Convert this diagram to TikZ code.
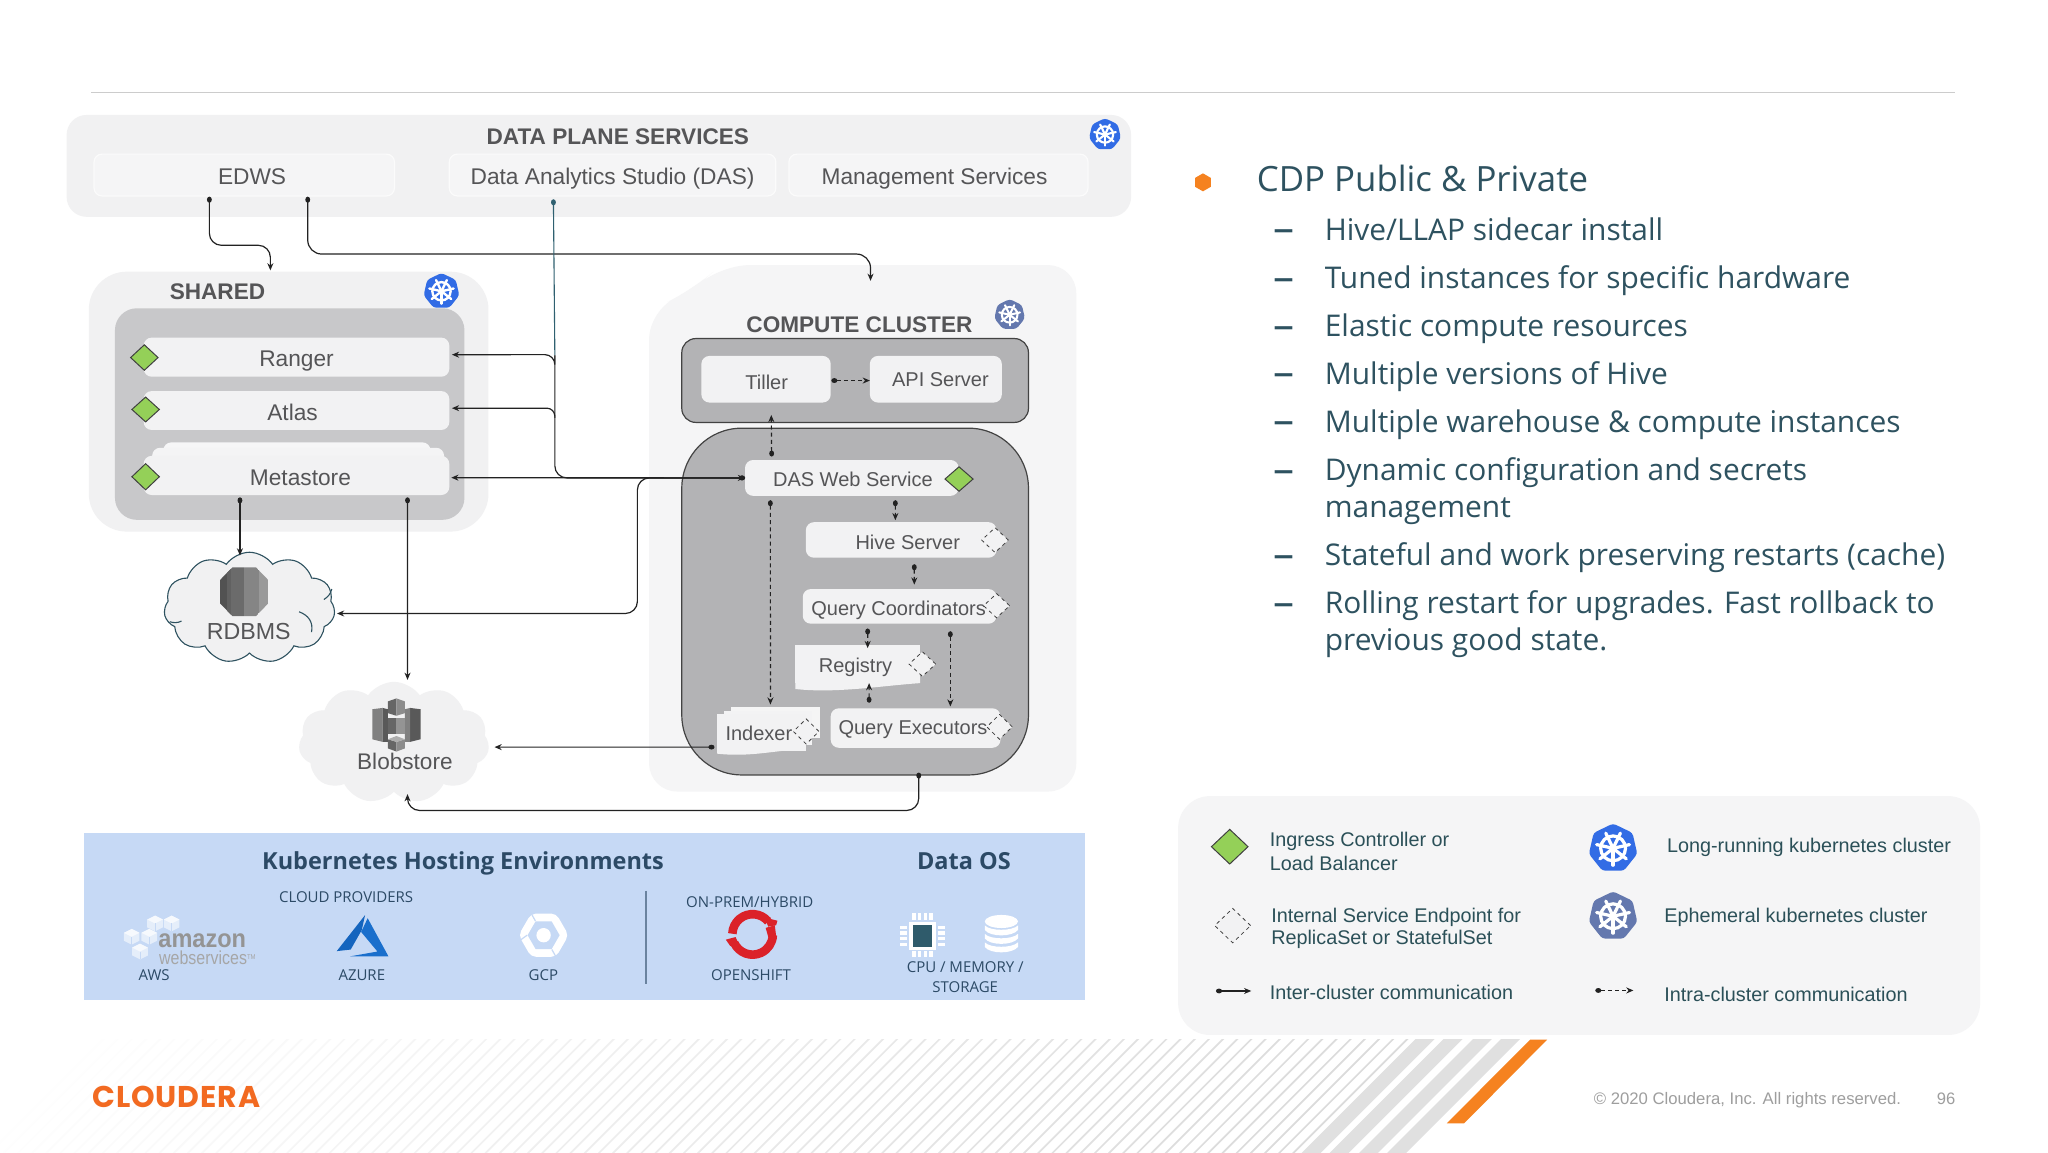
\documentclass[tikz,border=0pt]{standalone}
\usepackage{fontspec}
\usepackage{graphicx}
\setmainfont{Liberation Sans}
\newfontfamily\seg{Open Sans}
\newfontfamily\popp[LetterSpace=3]{Poppins}
\usetikzlibrary{shapes.geometric,shapes.symbols,arrows.meta,calc}
\definecolor{panel}{HTML}{F1F1F2}
\definecolor{panelL}{HTML}{F5F5F6}
\definecolor{grayA}{HTML}{C8C8CA}
\definecolor{grayB}{HTML}{B3B3B5}
\definecolor{boxw}{HTML}{F2F2F3}
\definecolor{txt}{HTML}{555557}
\definecolor{green1}{HTML}{94D058}
\definecolor{hostbg}{HTML}{C6D9F5}
\definecolor{hosttxt}{HTML}{2C4A66}
\definecolor{slate}{HTML}{2E5260}
\definecolor{legtxt}{HTML}{2B5058}
\definecolor{kblue}{HTML}{326CE5}
\definecolor{kgrey}{HTML}{6478AE}
\definecolor{orange1}{HTML}{F58220}
\definecolor{cloudera}{HTML}{F26A21}
\definecolor{lineK}{HTML}{222222}
\definecolor{teal1}{HTML}{2F6070}
\definecolor{azdark}{HTML}{1565BE}
\definecolor{azlight}{HTML}{1A6FCC}
\definecolor{osred}{HTML}{DB2229}
\definecolor{cpucore}{HTML}{2F5B6B}
\newcommand\fs[1]{\fontsize{#1}{#1}\selectfont}
\newcommand\boxn[6]{\node[#1,minimum width={(#5-#3)*0.653061pt},minimum height={(#6-#4)*0.653061pt}] (#2) at ({(#3+#5)/2},{(#4+#6)/2}) {};}
\newcommand\kube[5]{%
  \node[kubeshape,minimum size={2*#4*0.653061pt},fill=#5] (#1) at (#2,#3) {};
  \begin{scope}[shift={(#2,#3)},line cap=round,white,line width={#4*0.085pt}]
    \draw (0,0) circle [radius={#4*0.5}];
    \foreach \a in {90,141.43,192.86,244.29,295.71,347.14,38.57} {\draw (0,0) -- (\a:{#4*0.68});}
    \fill (0,0) circle [radius={#4*0.15}];
  \end{scope}}
\newcommand\awscube[2]{%
  \fill[white!55!hostbg] (#1,#2-6) -- (#1+6,#2-3) -- (#1+6,#2+3) -- (#1,#2+6) -- (#1-6,#2+3) -- (#1-6,#2-3) -- cycle;
  \fill[white!85!hostbg] (#1,#2-6) -- (#1+6,#2-3) -- (#1,#2) -- (#1-6,#2-3) -- cycle;
  \draw[hostbg,line width=.3pt] (#1,#2) -- (#1,#2+6);}
\newcommand\dbband[1]{\fill[white] (754,#1) .. controls (758,#1+4.5) and (775,#1+4.5) .. (779.4,#1) -- (779.4,#1+3.5) .. controls (775,#1+9) and (758,#1+9) .. (754,#1+3.5) -- cycle;}
\tikzset{
  x=0.653061pt,y=-0.653061pt,
  txtn/.style={inner sep=0pt,outer sep=0pt,text=txt,font=\fs{11.35}},
  svct/.style={txtn,font=\fs{10}},
  titlen/.style={inner sep=0pt,outer sep=0pt,text=txt,font=\fs{11.3}\bfseries},
  panelbox/.style={fill=panel,rounded corners=10pt,inner sep=0pt,outer sep=0pt},
  plainbox/.style={fill=panelL,draw=white!60!panelL,line width=.6pt,rounded corners=4pt,inner sep=0pt,outer sep=0pt},
  graybox/.style={fill=grayA,rounded corners=11pt,inner sep=0pt,outer sep=0pt},
  darkbox/.style={fill=grayB,draw=lineK!85,line width=.6pt,rounded corners=7pt,inner sep=0pt,outer sep=0pt},
  svc/.style={fill=boxw,rounded corners=4pt,inner sep=0pt,outer sep=0pt},
  svcsq/.style={fill=boxw,inner sep=0pt,outer sep=0pt},
  ingress/.style={diamond,aspect=1,fill=green1,draw=black!75,line width=.5pt,inner sep=0pt,outer sep=0pt},
  internal/.style={diamond,aspect=1,fill=boxw,draw=black!75,dash pattern=on 1.8pt off 1.8pt,line width=.4pt,inner sep=0pt,outer sep=0pt},
  kubeshape/.style={regular polygon,regular polygon sides=7,rounded corners=1.5pt,inner sep=0pt,outer sep=0pt},
  inter/.style={draw=lineK,line width=.6pt,{Ellipse[length=3pt,width=2.4pt]}-{Stealth[length=3.6pt,width=3pt]}},
  intra/.style={inter,dash pattern=on 2pt off 1.6pt},
  busline/.style={draw=lineK,line width=.6pt,-{Stealth[length=3.6pt,width=3pt]}},
  hostn/.style={inner sep=0pt,text=hosttxt,font=\seg\fs{7.5}},
  hosttitle/.style={inner sep=0pt,text=hosttxt,font=\seg\bfseries\fs{11.75}},
  bul/.style={anchor=base west,inner sep=0pt,text=slate,font=\seg\fs{15}},
  dashn/.style={anchor=base west,inner sep=0pt,text=slate,font=\seg\fs{14.95}},
  legn/.style={anchor=west,inner sep=0pt,text=legtxt,font=\fs{9.9}},
  cloudn/.style={cloud,cloud puffs=11,cloud puff arc=110,aspect=1.55,inner sep=0pt,outer sep=0pt},
  thinstripe/.style={draw=black!14,line width=.85pt},
  thickstripe/.style={draw=black!12,line width=6.7pt},
}
\begin{document}
\begin{tikzpicture}
\useasboundingbox (0,0) rectangle (1568,882);
\fill[white] (0,0) rectangle (1568,882);

% footer stripes
\begin{scope}
  \clip (0,796) rectangle (1568,882);
  \foreach \k in {0,...,92} {
    \pgfmathsetmacro\xt{1077-10.85*\k}
    \pgfmathsetmacro\op{min(1,max(0,(\xt-60)/1000))}
    \draw[thinstripe,opacity=\op] (\xt+6,790) -- (\xt-92,888);
  }
  \foreach \xt in {1090.5,1112,1134.5,1156} {\draw[thickstripe] (\xt+6,790) -- (\xt-92,888);}
\end{scope}
\fill[orange1] (1171.5,796) -- (1184.5,796) -- (1121,860) -- (1107.7,860) -- cycle;
\node[inner sep=0pt,text=cloudera,font=\popp\bfseries\fs{15}] (logo) at (135,840) {CLOUDERA};
\node[anchor=west,inner sep=0pt,text=black!38,font=\fs{8.35}] (copyr) at (1220,842) {© 2020 Cloudera, Inc. All rights reserved.};
\node[inner sep=0pt,text=black!38,font=\fs{8.3}] (pageno) at (1490,841) {96};

% top rule
\coordinate (ruleL) at (70,70.5);
\coordinate (ruleR) at (1497,70.5);
\draw[black!20,line width=.55pt] (ruleL) -- (ruleR);

% data plane
\boxn{panelbox}{dataplane}{51}{88}{866}{166}
\node[titlen] (dptitle) at (473,105) {DATA PLANE SERVICES};
\boxn{plainbox}{edws}{72}{118}{302}{150}
\boxn{plainbox}{das}{344}{118}{594}{150}
\boxn{plainbox}{mgmt}{604}{118}{833}{150}
\node[txtn] (edwst) at (193,135) {EDWS};
\node[txtn] (dast) at (469,136.5) {Data Analytics Studio (DAS)};
\node[txtn] (mgmtt) at (715.5,136.5) {Management Services};
\kube{kdp}{846}{103}{12.5}{kblue}

% shared
\boxn{panelbox,rounded corners=19pt}{shared}{68}{208}{374}{407}
\node[titlen] (sharedt) at (166.5,223.5) {SHARED};
\kube{kshared}{338}{223}{14}{kblue}
\boxn{graybox}{sharedin}{88}{236}{355.6}{398}
\boxn{svc}{ranger}{110}{258.5}{344}{288.4}
\boxn{svc}{atlas}{110}{299.4}{344}{329.2}
\boxn{svc,fill=boxw!70!white}{metaB}{125}{338.7}{329.6}{360}
\boxn{svc,fill=boxw!85!white}{metaM}{116.5}{342.8}{340}{365}
\boxn{svc}{meta}{110}{349}{344}{379}
\node[txtn] (rangert) at (227,276.5) {Ranger};
\node[txtn] (atlast) at (224,315.5) {Atlas};
\node[txtn] (metat) at (230,365.5) {Metastore};
\boxn{ingress}{dRanger}{100}{264}{121}{283.5}
\boxn{ingress}{dAtlas}{101}{304}{122}{323}
\boxn{ingress}{dMeta}{101}{355}{122}{375}

% clouds
\node[cloudn,fill=panel,draw=slate,line width=.55pt,minimum width=85.5pt,minimum height=55.5pt] (rdbms) at (191,465.3) {};
\draw[slate,line width=.55pt] (229,468.4) .. controls (236,471) and (240,476) .. (238.5,484);
\draw[slate,line width=.55pt] (248,459) .. controls (251,457) and (253,455) .. (254,451);
\draw[slate,line width=.55pt] (139,475.5) .. controls (136,477) and (133,477) .. (130,476);
\node[cloudn,fill=panel,minimum width=95.3pt,minimum height=60.7pt] (blob) at (301.6,568.5) {};
% rdbms icon
\begin{scope}
  \clip (178,434.4) -- (196,434.4) -- (205.3,444) -- (205.3,462) -- (196,471.7) -- (178,471.7) -- (168.5,462) -- (168.5,444) -- cycle;
  \fill[black!68] (168.5,434) rectangle (177,472);
  \fill[black!58] (177,434) rectangle (187,472);
  \fill[black!48] (187,434) rectangle (198,472);
  \fill[black!40] (198,434) rectangle (206,472);
  \fill[black!62] (174,434) rectangle (177,472);
\end{scope}
\node[txtn,font=\fs{11.6}] (rdbmst) at (190.5,483.5) {RDBMS};
% blob icon
\fill[black!50] (285,543) -- (293,542) -- (293,568) -- (285,566) -- cycle;
\fill[black!65] (293,542) -- (297,543) -- (297,568) -- (293,568) -- cycle;
\fill[black!65] (322,543) -- (314,542) -- (314,568) -- (322,566) -- cycle;
\fill[black!50] (314,542) -- (310,543) -- (310,568) -- (314,568) -- cycle;
\fill[black!60] (297,537) -- (303.5,534.7) -- (303.5,548) -- (297,546) -- cycle;
\fill[black!45] (310,537) -- (303.5,534.7) -- (303.5,548) -- (310,546) -- cycle;
\fill[black!60] (297,550) -- (303.5,550) -- (303.5,562) -- (297,562) -- cycle;
\fill[black!42] (310,550) -- (303.5,550) -- (303.5,562) -- (310,562) -- cycle;
\fill[black!60] (297,566) -- (303.5,568) -- (303.5,575.4) -- (297,573) -- cycle;
\fill[black!45] (310,566) -- (303.5,568) -- (303.5,575.4) -- (310,573) -- cycle;
\fill[black!32] (297,566) -- (303.5,563.5) -- (310,566) -- (303.5,568) -- cycle;
\node[txtn,font=\fs{11.3}] (blobt) at (310,583) {Blobstore};

% compute cluster
\fill[panelL,rounded corners=14pt] (650,203) -- (824,203) -- (824,606) -- (497,606) -- (497,238) -- (530,222) -- (552,203) -- cycle;
\coordinate (computeTop) at (666.5,215);
\node[titlen] (computet) at (658,248.8) {COMPUTE CLUSTER};
\kube{kcomp}{773}{241}{12}{kgrey}
\boxn{darkbox}{ctop}{522}{259.2}{787.4}{323.4}
\boxn{svc}{tiller}{537}{272.5}{636}{308.2}
\boxn{svc}{api}{666}{272.5}{767}{308.2}
\node[svct] (tillert) at (587,292.5) {Tiller};
\node[svct] (apit) at (720,290.5) {API Server};
\boxn{darkbox,rounded corners=30pt}{cbig}{522}{327.8}{787.4}{593.3}
\boxn{svc}{webs}{570.4}{352.2}{734}{379.6}
\boxn{svc}{hive}{617}{399.8}{763}{427}
\boxn{svc}{qc}{614.6}{451}{763}{477.5}
\boxn{svcsq}{registry}{609}{494}{704.4}{523}
\fill[boxw] (609,518) -- (704.4,518) -- (704.4,523) .. controls (675,525) and (640,531) .. (609,527.5) -- cycle;
\boxn{svc}{qe}{636}{542.3}{766}{572.5}
\boxn{svcsq,fill=boxw!80!white}{idxB}{559.7}{541}{628}{565}
\boxn{svcsq,fill=boxw!90!white}{idxM}{554}{544}{622}{570}
\boxn{svcsq}{indexer}{549}{547}{617}{575}
\fill[boxw] (549,572) -- (617,572) -- (617,573.5) .. controls (595,574) and (575,580) .. (549,577) -- cycle;
\node[svct] (webst) at (653,367) {DAS Web Service};
\node[svct] (hivet) at (695,415) {Hive Server};
\node[svct] (qct) at (688,467) {Query Coordinators};
\node[svct] (registryt) at (655,511) {Registry};
\node[svct] (qet) at (699,558.5) {Query Executors};
\node[svct] (indexert) at (581,561.5) {Indexer};
\boxn{ingress}{dWeb}{723.5}{357.4}{745}{376.1}
\boxn{internal}{dHive}{751.6}{404}{772}{423}
\boxn{internal}{dQc}{753}{454.5}{773}{473}
\boxn{internal}{dReg}{696}{499}{716.4}{517.8}
\boxn{internal}{dQe}{755.5}{547}{775}{566}
\boxn{internal}{dIdx}{607.4}{550.4}{627}{569.6}

% inter-cluster connectors
\draw[inter,rounded corners=6pt] ($(edws.south)+(-26.7,0.6)$) -- ++(0,37.2) -| ($(shared.north)+(-14,-1)$);
\draw[inter,rounded corners=7pt] ($(edws.south)+(48.6,0.6)$) -- ++(0,43.9) -| (computeTop);
\coordinate (busTop) at (424.8,272);
\draw[teal1,line width=.55pt,{Ellipse[length=3pt,width=2.4pt]}-] ($(das.south)+(-45.3,2.6)$) -- (busTop);
\draw[busline,rounded corners=6pt] (busTop) |- (webs.west);
\draw[busline,rounded corners=5pt] (busTop) -- ++(0,-0.5) -- ($(ranger.east)+(2,-1.9)$);
\coordinate (busAtlas) at (424.8,320);
\draw[busline,rounded corners=4pt] (busAtlas) -- ++(0,-7.5) -- ($(atlas.east)+(2,-1.8)$);
\draw[inter] (webs.west) -- ($(meta.east)+(1.5,1.7)$);
\draw[inter,rounded corners=6pt] (webs.west) -- (488,365.9) -- (488,469.7) -- ($(rdbms.center)+(67,4.4)$);
\draw[inter] ($(meta.south)+(-43.3,1.8)$) -- ($(rdbms.center)+(-7.3,-40)$);
\draw[inter] ($(meta.south)+(85,1.8)$) -- ($(blob.center)+(10.4,-48)$);
\draw[inter] ($(indexer.west)+(-2,11)$) -- ($(blob.center)+(77,3.5)$);
\draw[inter,rounded corners=6pt] ($(cbig.south)+(48.7,-1.8)$) -- ++(0,29) -| ($(blob.center)+(10.4,39.5)$);

% intra-cluster connectors
\draw[intra] ($(tiller.east)+(0.5,1)$) -- ($(api.west)+(0,1)$);
\draw[intra] ($(webs.north)+(-61.4,-2.7)$) -- ($(tiller.south)+(4,9.5)$);
\draw[intra] ($(webs.south)+(33.3,3.4)$) -- ($(hive.north)+(-4.5,-1.5)$);
\draw[intra] ($(hive.south)+(10,5)$) -- ($(qc.north)+(11.2,-3.4)$);
\draw[intra] ($(qc.south)+(-24.5,3.7)$) -- ($(registry.north)+(7.6,2.2)$);
\draw[intra] ($(qc.south)+(38.8,5.8)$) -- ($(qe.north)+(26.6,-1.4)$);
\draw[intra] ($(qe.north)+(-35.6,-4.3)$) -- ($(registry.south)+(8.7,0)$);
\draw[intra] ($(webs.south)+(-62.4,3.4)$) -- ($(idxB.north)+(-4,-1.6)$);

% hosting
\boxn{svcsq,fill=hostbg}{hosting}{64.3}{637.6}{830.7}{765.7}
\node[hosttitle] (hostt) at (354.5,661) {Kubernetes Hosting Environments};
\node[hosttitle] (dataos) at (738,659) {Data OS};
\node[hostn] (cloudp) at (265,687) {CLOUD PROVIDERS};
\node[hostn] (onprem) at (574,690.5) {ON-PREM/HYBRID};
\node[hostn] (awst) at (118,746.5) {AWS};
\node[hostn] (azuret) at (277,746.5) {AZURE};
\node[hostn] (gcpt) at (416,746.5) {GCP};
\node[hostn] (ost) at (575,746.5) {OPENSHIFT};
\node[hostn] (cput) at (739,740.5) {CPU / MEMORY /};
\node[hostn] (stort) at (739,756) {STORAGE};
\coordinate (sepT) at (494.6,682);
\coordinate (sepB) at (494.6,753.7);
\draw[hosttxt!60!hostbg,line width=.6pt] (sepT) -- (sepB);
% aws logo
\awscube{118.7}{707}\awscube{131.4}{707}\awscube{100.8}{717.2}\awscube{114.3}{717.2}\awscube{107.2}{728.5}
\node[anchor=west,inner sep=0pt,text=black!42,font=\bfseries\fs{12.8}] (amazont) at (121,720.5) {\scalebox{.92}[1]{amazon}};
\node[anchor=west,inner sep=0pt,text=black!35,font=\fs{9.4}] (webserv) at (121.5,733.5) {\scalebox{.85}[1]{webservices\raisebox{.55ex}{\fs{3.5}TM}}};
% azure logo
\fill[azdark] (279.5,700.6) -- (257.8,728.2) -- (268.5,727) -- (277,712) -- cycle;
\fill[azlight] (281.5,703) -- (297.4,732.2) -- (268,732.2) -- (289,728.5) -- (276.5,713.5) -- cycle;
% gcp logo
\node[regular polygon,regular polygon sides=6,fill=white,rounded corners=2.5pt,minimum size=25pt,inner sep=0pt] (gcpO) at (416.2,716) {};
\node[regular polygon,regular polygon sides=6,fill=hostbg,minimum size=16pt,inner sep=0pt] (gcpI) at (416.2,716) {};
\fill[white] (416.2,716) circle [radius=5.5];
\draw[hostbg,line width=.6pt] (gcpI.corner 2) -- ++(-5,-9);
\draw[hostbg,line width=.6pt] (gcpI.corner 5) -- ++(5,9);
\draw[hostbg,line width=.6pt] (gcpI.corner 3) -- ++(-7,5);
% openshift logo
\begin{scope}[shift={(576.2,715.4)},line width=4.3pt]
  \draw[osred] (-40:15.5) arc [start angle=-40,end angle=-178,radius=15.5];
  \draw[osred] (-205:15.5) arc [start angle=-205,end angle=-358,radius=15.5];
  \fill[osred] (9,-13) -- (19,-10.5) -- (18,-7) -- (12,-6) -- cycle;
  \fill[osred] (-20.5,4) -- (-13,2) -- (-10,9) -- (-17,9) -- cycle;
  \fill[osred] (10,-5) -- (17,-7) -- (18,1) -- (12,2) -- cycle;
\end{scope}
% cpu
\fill[white] (696,706) rectangle (716.5,727);
\fill[cpucore] (698.9,708.4) rectangle (713.7,725);
\foreach \d in {-6.6,-2.2,2.2,6.6} {
  \fill[white] ({706.3+\d-1.3},699) rectangle ({706.3+\d+1.3},704.5);
  \fill[white] ({706.3+\d-1.3},728) rectangle ({706.3+\d+1.3},732.5);
  \fill[white] (689,{716.5+\d-1.3}) rectangle (694.5,{716.5+\d+1.3});
  \fill[white] (718,{716.5+\d-1.3}) rectangle (723.7,{716.5+\d+1.3});
}
% db
\fill[white] (766.7,705.5) ellipse [x radius=12.7,y radius=5];
\dbband{708.5}\dbband{715}\dbband{721.5}

% right bullets
\node[regular polygon,regular polygon sides=6,shape border rotate=30,fill=orange1,minimum size=9pt,inner sep=0pt] (bulletA) at (921,139.6) {};
\node[bul,font=\seg\fs{17.4}] (bA) at (962,146.5) {CDP Public \& Private};
\foreach \nm/\yy/\yd/\tx in {
  b1/184/186/{Hive/LLAP sidecar install},
  b2/221/223/{Tuned instances for specific hardware},
  b3/258/260/{Elastic compute resources},
  b4/294/296/{Multiple versions of Hive},
  b5/331/333/{Multiple warehouse \& compute instances},
  b6/368/370/{Dynamic configuration and secrets},
  b7/433/435/{Stateful and work preserving restarts (cache)},
  b8/470/472/{Rolling restart for upgrades. Fast rollback to}} {
  \node[dashn,font=\seg\fs{21}] (\nm d) at (975,\yd) {–};
  \node[dashn] (\nm) at (1014,\yy) {\tx};
}
\node[dashn] (b6b) at (1014,396) {management};
\node[dashn] (b8b) at (1014,498) {previous good state.};

% legend
\boxn{panelbox,fill=panelL,rounded corners=16pt}{legend}{902}{609.5}{1516}{792.4}
\boxn{ingress}{lgIn}{927.5}{635}{955.5}{661.5}
\node[legn] (lg1a) at (972,644.5) {Ingress Controller or};
\node[legn] (lg1b) at (972,661) {Load Balancer};
\boxn{internal}{lgInt}{930}{695.5}{957.5}{721.8}
\node[legn] (lg2a) at (973,702) {Internal Service Endpoint for};
\node[legn] (lg2b) at (973,719.5) {ReplicaSet or StatefulSet};
\coordinate (lgA1) at (931,758.7);
\coordinate (lgA2) at (958,758.7);
\draw[inter] (lgA1) -- (lgA2);
\node[legn] (lg3) at (972,760) {Inter-cluster communication};
\kube{lgK1}{1235}{649.5}{19}{kblue}
\kube{lgK2}{1235}{701.5}{19}{kgrey}
\node[legn] (lg4) at (1276,648.5) {Long-running kubernetes cluster};
\node[legn] (lg5) at (1274,702.5) {Ephemeral kubernetes cluster};
\coordinate (lgB1) at (1221.4,758.3);
\coordinate (lgB2) at (1250.6,758.3);
\draw[intra] (lgB1) -- (lgB2);
\node[legn] (lg6) at (1274,761) {Intra-cluster communication};
\end{tikzpicture}
\end{document}
